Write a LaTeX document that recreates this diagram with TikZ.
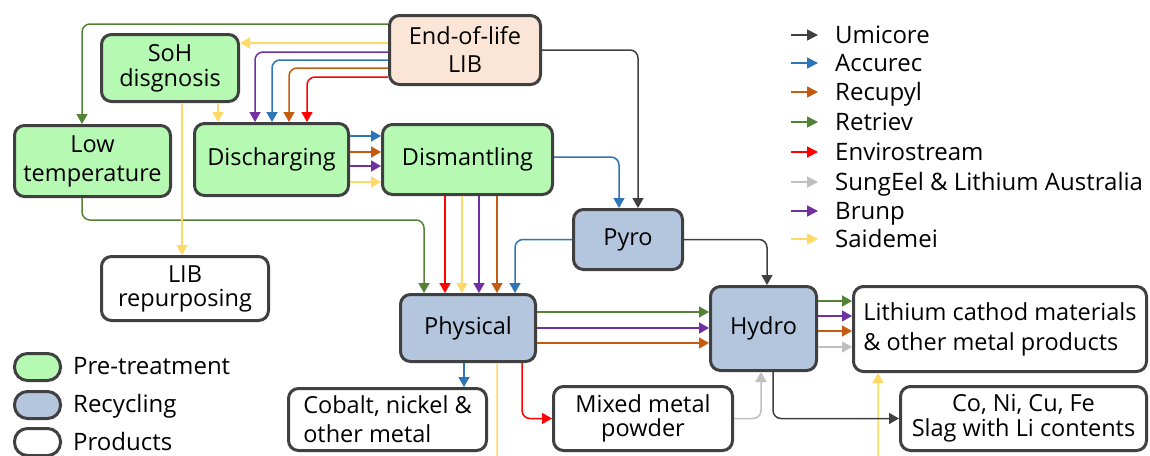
\documentclass[tikz,border=0pt]{standalone}
\usepackage{fontspec}
\setmainfont{Open Sans}
\usetikzlibrary{arrows.meta}
\definecolor{cUmi}{HTML}{404040}
\definecolor{cAcc}{HTML}{2E75B6}
\definecolor{cRec}{HTML}{C55A11}
\definecolor{cRet}{HTML}{548235}
\definecolor{cEnv}{HTML}{FF0000}
\definecolor{cSun}{HTML}{BFBFBF}
\definecolor{cBru}{HTML}{7030A0}
\definecolor{cSai}{HTML}{FFD966}
\definecolor{fPre}{HTML}{B6F9B3}
\definecolor{fRcy}{HTML}{B4C6DE}
\definecolor{fEol}{HTML}{FAE5D6}
\definecolor{bord}{HTML}{404040}
\tikzset{
  box/.style={draw=bord, line width=3pt, rounded corners=10pt, align=center, inner sep=0pt,
    font=\fontsize{23.5}{28}\selectfont, text=black},
  prebox/.style={box, fill=fPre},
  rcybox/.style={box, fill=fRcy},
  prodbox/.style={box, fill=white},
  eolbox/.style={box, fill=fEol},
  conn/.style={line width=1.5pt, rounded corners=8pt, -{Triangle[length=10pt,width=11pt]}},
  legtxt/.style={font=\fontsize{24}{28}\selectfont, text=black, inner sep=0pt, anchor=base west},
  legarr/.style={line width=1.5pt, -{Triangle[length=11pt,width=11pt]}},
  legbox/.style={minimum width=46pt, minimum height=27pt, rounded corners=13pt},
}
\begin{document}
\begin{tikzpicture}[x=1pt,y=-1pt]
\useasboundingbox (0,0) rectangle (1150,455);
\fill[white] (0,0) rectangle (1150,455);

% nodes
\node[eolbox, minimum width=151, minimum height=69] (eol) at (465,50) {End-of-life\\LIB};
\node[prebox, minimum width=137, minimum height=67, font=\fontsize{23.5}{25}\selectfont] (soh) at (170,68) {SoH\\disgnosis};
\node[prebox, minimum width=156, minimum height=71, font=\fontsize{23.5}{29}\selectfont] (lowt) at (92.5,161) {Low\\temperature};
\node[prebox, minimum width=154, minimum height=72] (dis) at (271.5,159.5) {Discharging};
\node[prebox, minimum width=170, minimum height=70] (dism) at (467.5,159.5) {Dismantling};
\node[rcybox, minimum width=109, minimum height=60] (pyro) at (628,239.5) {Pyro};
\node[rcybox, minimum width=135, minimum height=67] (phys) at (468,328) {Physical};
\node[rcybox, minimum width=106, minimum height=84] (hydro) at (763.5,328.5) {Hydro};
\node[prodbox, minimum width=293, minimum height=85, align=left, font=\fontsize{23.5}{30}\selectfont] (lith) at (1000,329) {Lithium cathod materials\\\& other metal products};
\node[prodbox, minimum width=246, minimum height=64, font=\fontsize{23.5}{25}\selectfont] (cnf) at (1023.5,418.5) {Co, Ni, Cu, Fe\\Slag with Li contents};
\node[prodbox, minimum width=179, minimum height=64, font=\fontsize{23.5}{24}\selectfont] (mix) at (643,418.5) {Mixed metal\\powder};
\node[prodbox, minimum width=198, minimum height=62, align=left, font=\fontsize{23.5}{29}\selectfont] (cob) at (387.5,419.5) {Cobalt, nickel \&\\other metal};
\node[prodbox, minimum width=167, minimum height=64, font=\fontsize{23.5}{24}\selectfont] (rep) at (185,288.5) {LIB\\repurposing};

% Retriev (green)
\draw[conn, cRet] (eol.west |- 0,24) -| (82,0 |- lowt.north);
\draw[conn, cRet] (82,0 |- lowt.south) -- (82,220) -- (424,220) -- (424,0 |- phys.north);
\draw[conn, cRet] (phys.east |- 0,312) -- (hydro.west |- 0,312);
\draw[conn, cRet] (hydro.east |- 0,301) -- (lith.west |- 0,301);

% Saidemei (yellow)
\draw[conn, cSai] (eol.west |- 0,43) -- (soh.east |- 0,43);
\draw[conn, cSai] (218,0 |- soh.south) -- (218,0 |- dis.north);
\draw[conn, cSai] (182,0 |- soh.south) -- (182,0 |- rep.north);
\draw[conn, cSai] (dis.east |- 0,182) -- (dism.west |- 0,182);
\draw[conn, cSai] (462,0 |- dism.south) -- (462,0 |- phys.north);
\begin{scope}
\clip (0,0) rectangle (1150,455);
\draw[conn, cSai] (497,0 |- phys.south) -- (497,475) -- (878,475) -- (878,0 |- lith.south);
\end{scope}

% Brunp (purple)
\draw[conn, cBru] (eol.west |- 0,52) -| (255,0 |- dis.north);
\draw[conn, cBru] (dis.east |- 0,166) -- (dism.west |- 0,166);
\draw[conn, cBru] (479,0 |- dism.south) -- (479,0 |- phys.north);
\draw[conn, cBru] (phys.east |- 0,328) -- (hydro.west |- 0,328);
\draw[conn, cBru] (hydro.east |- 0,316) -- (lith.west |- 0,316);

% Accurec (blue)
\draw[conn, cAcc] (eol.west |- 0,60) -| (272,0 |- dis.north);
\draw[conn, cAcc] (dis.east |- 0,136) -- (dism.west |- 0,136);
\draw[conn, cAcc] (dism.east |- 0,157) -| (619,0 |- pyro.north);
\draw[conn, cAcc] (pyro.west) -| (515,0 |- phys.north);
\draw[conn, cAcc] (464,0 |- phys.south) -- (464,0 |- cob.north);

% Recupyl (orange)
\draw[conn, cRec] (eol.west |- 0,68) -| (289,0 |- dis.north);
\draw[conn, cRec] (dis.east |- 0,152) -- (dism.west |- 0,152);
\draw[conn, cRec] (497,0 |- dism.south) -- (497,0 |- phys.north);
\draw[conn, cRec] (phys.east |- 0,343) -- (hydro.west |- 0,343);
\draw[conn, cRec] (hydro.east |- 0,331) -- (lith.west |- 0,331);

% Envirostream (red)
\draw[conn, cEnv] (eol.west |- 0,77) -| (307,0 |- dis.north);
\draw[conn, cEnv] (445,0 |- dism.south) -- (445,0 |- phys.north);
\draw[conn, cEnv] (522,0 |- phys.south) |- (mix.west);

% Umicore (dark gray)
\draw[conn, cUmi] (eol.east) -| (638,0 |- pyro.north);
\draw[conn, cUmi] (pyro.east) -| (767,0 |- hydro.north);
\draw[conn, cUmi] (773,0 |- hydro.south) |- (cnf.west);

% SungEel (light gray)
\draw[conn, cSun] (mix.east) -| (761,0 |- hydro.south);
\draw[conn, cSun] (hydro.east |- 0,347) -- (lith.west |- 0,347);

% legend: companies
\coordinate (a1) at (791,35);  \coordinate (b1) at (818,35);
\coordinate (a2) at (791,63);  \coordinate (b2) at (818,63);
\coordinate (a3) at (791,92);  \coordinate (b3) at (818,92);
\coordinate (a4) at (791,122); \coordinate (b4) at (818,122);
\coordinate (a5) at (791,152); \coordinate (b5) at (818,152);
\coordinate (a6) at (791,182); \coordinate (b6) at (818,182);
\coordinate (a7) at (791,211); \coordinate (b7) at (818,211);
\coordinate (a8) at (791,239); \coordinate (b8) at (818,239);
\draw[legarr, cUmi] (a1) -- (b1);
\draw[legarr, cAcc] (a2) -- (b2);
\draw[legarr, cRec] (a3) -- (b3);
\draw[legarr, cRet] (a4) -- (b4);
\draw[legarr, cEnv] (a5) -- (b5);
\draw[legarr, cSun] (a6) -- (b6);
\draw[legarr, cBru] (a7) -- (b7);
\draw[legarr, cSai] (a8) -- (b8);
\node[legtxt] (t1) at (835,43.5) {Umicore};
\node[legtxt] (t2) at (835,71.5) {Accurec};
\node[legtxt] (t3) at (835,100.5) {Recupyl};
\node[legtxt] (t4) at (835,130.5) {Retriev};
\node[legtxt] (t5) at (835,160.5) {Envirostream};
\node[legtxt] (t6) at (835,190.5) {SungEel \& Lithium Australia};
\node[legtxt] (t7) at (835,219.5) {Brunp};
\node[legtxt] (t8) at (835,247.5) {Saidemei};

% legend: box types
\node[prebox, legbox] (lg1) at (37.5,367) {};
\node[rcybox, legbox] (lg2) at (37.5,405) {};
\node[prodbox, legbox] (lg3) at (37.5,442) {};
\node[legtxt] (lt1) at (73,374.5) {Pre-treatment};
\node[legtxt] (lt2) at (73,412) {Recycling};
\node[legtxt] (lt3) at (73,450) {Products};
\end{tikzpicture}
\end{document}
